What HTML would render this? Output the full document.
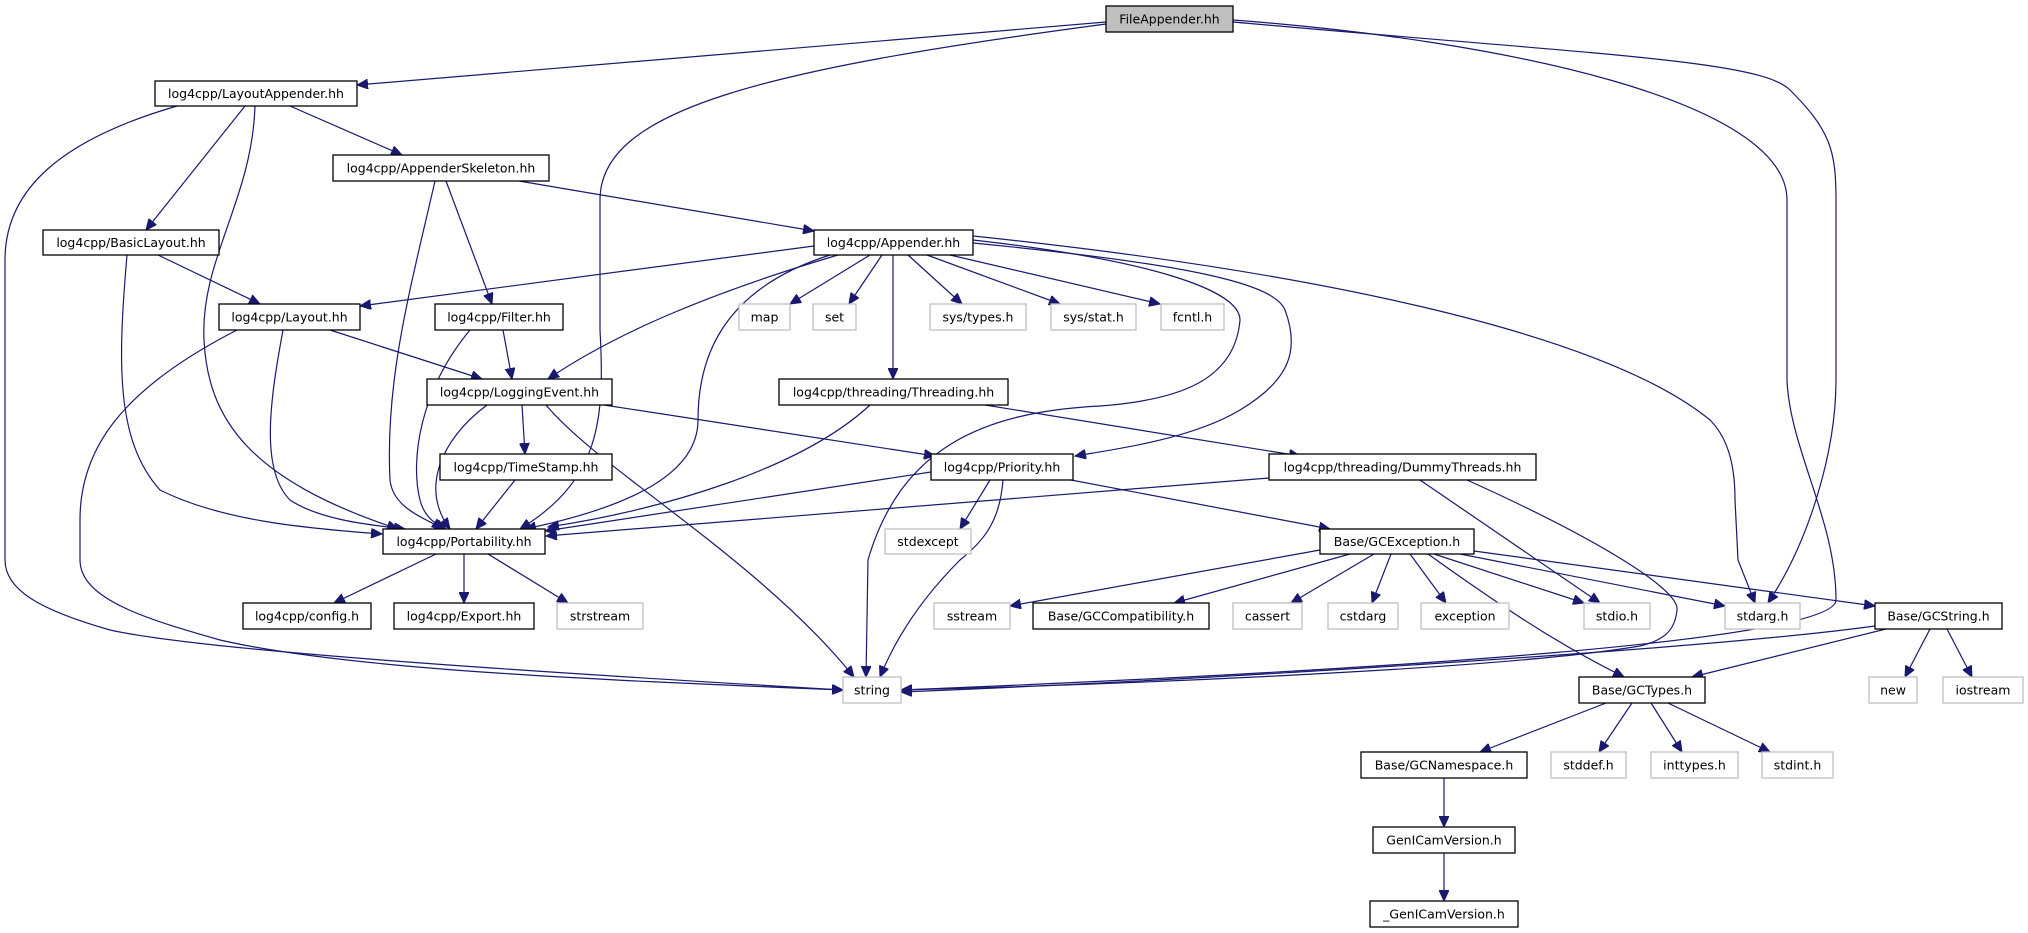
<!DOCTYPE html>
<html><head><meta charset="utf-8"><style>
html,body{margin:0;padding:0;background:#fff;}
svg{display:block;}
text{font-family:"DejaVu Sans","Liberation Sans",sans-serif;font-size:12.5px;text-anchor:middle;fill:#000;}
.n{fill:#fff;stroke:#000;stroke-width:1.3;}
.g{fill:#fff;stroke:#bfbfbf;stroke-width:1.3;}
path{fill:none;stroke:#191970;stroke-width:1.2;marker-end:url(#a);}
</style></head><body>
<svg width="2028" height="933" viewBox="0 0 2028 933" xmlns="http://www.w3.org/2000/svg">
<defs><marker id="a" markerUnits="userSpaceOnUse" markerWidth="12" markerHeight="10" refX="11" refY="5" orient="auto"><polygon points="0,0 11,5 0,10" fill="#191970" stroke="#191970"/></marker></defs>

<!-- edges -->
<path d="M1106,22 L357,85"/>
<path d="M1106,24 C760,70 600,110 600,200 L600,330 C605,420 600,480 520,529"/>
<path d="M1233,22 C1600,55 1760,60 1790,90 C1830,130 1836,150 1836,200 L1836,380 C1836,450 1810,540 1768,603"/>
<path d="M1233,20 C1500,40 1787,100 1787,200 L1787,380 C1790,450 1836,520 1836,600 C1836,640 1400,670 901,690"/>
<path d="M290,106 L402,155"/>
<path d="M245,106 L146,230"/>
<path d="M255,106 C252,200 200,260 204,340 C208,420 250,480 398,529"/>
<path d="M177,106 C60,140 5,190 5,260 L5,560 C5,590 40,610 110,630 C200,650 500,670 843,690"/>
<path d="M519,181 L814,231"/>
<path d="M446,181 L492,304"/>
<path d="M435,181 C410,290 385,380 390,480 C393,510 430,520 443,529"/>
<path d="M158,255 L260,304"/>
<path d="M127,255 C118,360 115,440 160,490 C220,520 300,528 382,534"/>
<path d="M814,246 L360,306"/>
<path d="M838,255 C720,290 620,330 548,379"/>
<path d="M830,255 C720,290 698,360 698,420 C698,470 640,505 525,529"/>
<path d="M870,255 L790,304"/>
<path d="M882,255 L849,304"/>
<path d="M908,255 L962,304"/>
<path d="M927,255 L1060,304"/>
<path d="M950,255 L1160,304"/>
<path d="M893,255 L893,379"/>
<path d="M973,240 C1150,260 1240,290 1240,320 C1235,380 1180,400 1100,406 C980,412 900,450 868,560 L866,677"/>
<path d="M973,243 C1200,265 1275,285 1285,310 C1300,350 1290,380 1240,410 C1190,440 1110,450 1075,456"/>
<path d="M973,236 C1300,270 1600,330 1710,420 C1730,440 1735,470 1735,500 L1738,560 L1755,603"/>
<path d="M330,330 L482,379"/>
<path d="M283,330 C270,400 260,470 290,500 C320,520 370,525 405,529"/>
<path d="M237,330 C120,390 80,450 80,520 L80,560 C80,600 150,620 220,640 C350,670 600,680 843,690"/>
<path d="M503,330 L512,379"/>
<path d="M470,330 C420,390 410,460 420,500 C425,520 440,526 446,529"/>
<path d="M522,405 L525,454"/>
<path d="M487,405 C440,440 420,490 450,529"/>
<path d="M546,405 C600,470 760,560 854,677"/>
<path d="M604,405 L935,456"/>
<path d="M515,480 L476,529"/>
<path d="M870,405 C800,470 660,510 548,527"/>
<path d="M985,405 L1300,456"/>
<path d="M931,472 L545,531"/>
<path d="M1269,478 L546,536"/>
<path d="M990,480 L960,529"/>
<path d="M1003,480 C1000,520 985,540 960,560 C920,600 895,640 880,677"/>
<path d="M1071,480 L1330,529"/>
<path d="M1420,480 L1600,603"/>
<path d="M1467,480 C1600,540 1680,590 1677,610 C1675,630 1665,640 1640,646 C1500,670 1100,685 901,690"/>
<path d="M436,554 L334,603"/>
<path d="M464,554 L464,603"/>
<path d="M488,554 L568,603"/>
<path d="M1320,550 L1010,606"/>
<path d="M1350,554 L1174,603"/>
<path d="M1374,554 L1291,603"/>
<path d="M1391,554 L1372,603"/>
<path d="M1410,554 L1446,603"/>
<path d="M1434,554 L1584,603"/>
<path d="M1460,554 L1725,606"/>
<path d="M1474,551 L1875,606"/>
<path d="M1428,554 C1520,620 1570,650 1624,677"/>
<path d="M1875,626 C1700,650 1200,680 901,692"/>
<path d="M1886,629 L1692,677"/>
<path d="M1930,629 L1905,677"/>
<path d="M1947,629 L1972,677"/>
<path d="M1606,703 L1480,752"/>
<path d="M1632,703 L1599,752"/>
<path d="M1651,703 L1682,752"/>
<path d="M1668,703 L1770,752"/>
<path d="M1444,778 L1444,827"/>
<path d="M1444,853 L1444,901"/>

<!-- nodes -->
<rect x="1106" y="6" width="127" height="26" fill="#bfbfbf" stroke="#000" stroke-width="1.3"/><text x="1169.5" y="23.5">FileAppender.hh</text>
<rect class="n" x="155" y="81" width="202" height="25"/><text x="256" y="98">log4cpp/LayoutAppender.hh</text>
<rect class="n" x="333" y="155" width="216" height="26"/><text x="441" y="172.5">log4cpp/AppenderSkeleton.hh</text>
<rect class="n" x="43" y="230" width="176" height="25"/><text x="131" y="247">log4cpp/BasicLayout.hh</text>
<rect class="n" x="814" y="230" width="159" height="25"/><text x="893.5" y="247">log4cpp/Appender.hh</text>
<rect class="n" x="219" y="304" width="141" height="26"/><text x="289.5" y="321.5">log4cpp/Layout.hh</text>
<rect class="n" x="435" y="304" width="128" height="26"/><text x="499" y="321.5">log4cpp/Filter.hh</text>
<rect class="g" x="739" y="304" width="51" height="26"/><text x="764.5" y="321.5">map</text>
<rect class="g" x="813" y="304" width="43" height="26"/><text x="834.5" y="321.5">set</text>
<rect class="g" x="930" y="304" width="96" height="26"/><text x="978" y="321.5">sys/types.h</text>
<rect class="g" x="1051" y="304" width="85" height="26"/><text x="1093.5" y="321.5">sys/stat.h</text>
<rect class="g" x="1161" y="304" width="63" height="26"/><text x="1192.5" y="321.5">fcntl.h</text>
<rect class="n" x="427" y="379" width="185" height="26"/><text x="519.5" y="396.5">log4cpp/LoggingEvent.hh</text>
<rect class="n" x="779" y="379" width="229" height="26"/><text x="893.5" y="396.5">log4cpp/threading/Threading.hh</text>
<rect class="n" x="440" y="454" width="172" height="26"/><text x="526" y="471.5">log4cpp/TimeStamp.hh</text>
<rect class="n" x="931" y="454" width="142" height="26"/><text x="1002" y="471.5">log4cpp/Priority.hh</text>
<rect class="n" x="1269" y="454" width="267" height="26"/><text x="1402.5" y="471.5">log4cpp/threading/DummyThreads.hh</text>
<rect class="n" x="383" y="529" width="162" height="25"/><text x="464" y="546">log4cpp/Portability.hh</text>
<rect class="n" x="1320" y="529" width="154" height="25"/><text x="1397" y="546">Base/GCException.h</text>
<rect class="g" x="885" y="529" width="86" height="25"/><text x="928" y="546">stdexcept</text>
<rect class="n" x="243" y="603" width="128" height="26"/><text x="307" y="620.5">log4cpp/config.h</text>
<rect class="n" x="394" y="603" width="140" height="26"/><text x="464" y="620.5">log4cpp/Export.hh</text>
<rect class="g" x="557" y="603" width="86" height="26"/><text x="600" y="620.5">strstream</text>
<rect class="g" x="934" y="603" width="76" height="26"/><text x="972" y="620.5">sstream</text>
<rect class="n" x="1033" y="603" width="176" height="26"/><text x="1121" y="620.5">Base/GCCompatibility.h</text>
<rect class="g" x="1233" y="603" width="69" height="26"/><text x="1267.5" y="620.5">cassert</text>
<rect class="g" x="1328" y="603" width="70" height="26"/><text x="1363" y="620.5">cstdarg</text>
<rect class="g" x="1421" y="603" width="88" height="26"/><text x="1465" y="620.5">exception</text>
<rect class="g" x="1584" y="603" width="66" height="26"/><text x="1617" y="620.5">stdio.h</text>
<rect class="g" x="1725" y="603" width="75" height="26"/><text x="1762.5" y="620.5">stdarg.h</text>
<rect class="n" x="1875" y="603" width="127" height="26"/><text x="1938.5" y="620.5">Base/GCString.h</text>
<rect class="g" x="843" y="677" width="58" height="26"/><text x="872" y="694.5">string</text>
<rect class="n" x="1579" y="677" width="126" height="26"/><text x="1642" y="694.5">Base/GCTypes.h</text>
<rect class="g" x="1869" y="677" width="48" height="26"/><text x="1893" y="694.5">new</text>
<rect class="g" x="1943" y="677" width="80" height="26"/><text x="1983" y="694.5">iostream</text>
<rect class="n" x="1361" y="752" width="166" height="26"/><text x="1444" y="769.5">Base/GCNamespace.h</text>
<rect class="g" x="1551" y="752" width="75" height="26"/><text x="1588.5" y="769.5">stddef.h</text>
<rect class="g" x="1651" y="752" width="87" height="26"/><text x="1694.5" y="769.5">inttypes.h</text>
<rect class="g" x="1762" y="752" width="71" height="26"/><text x="1797.5" y="769.5">stdint.h</text>
<rect class="n" x="1373" y="827" width="142" height="26"/><text x="1444" y="844.5">GenICamVersion.h</text>
<rect class="n" x="1370" y="901" width="148" height="26"/><text x="1444" y="918.5">_GenICamVersion.h</text>
</svg>
</body></html>
